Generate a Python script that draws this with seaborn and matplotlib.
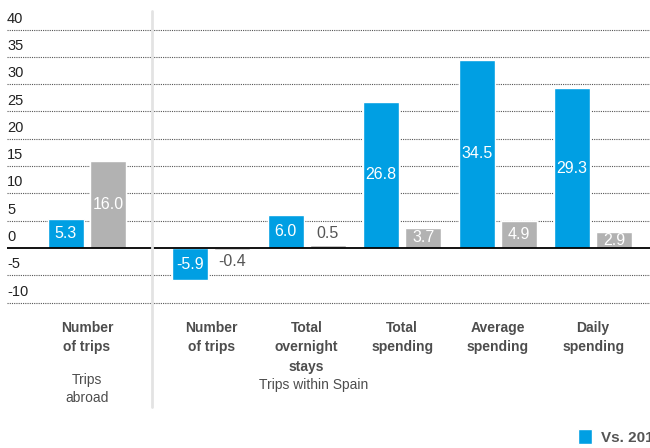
import matplotlib
matplotlib.use("Agg")
import matplotlib.pyplot as plt
from matplotlib.lines import Line2D
import seaborn as sns
import pandas as pd

# ---- data ----
categories = ["Number\nof trips", "Number\nof trips", "Total\novernight\nstays",
              "Total\nspending", "Average\nspending", "Daily\nspending"]
positions = [0.0, 1.3, 2.3, 3.3, 4.3, 5.3]
series_names = ["Vs. 2017", "Vs. earlier period"]
blue_values = [5.3, -5.9, 6.0, 26.8, 34.5, 29.3]
gray_values = [16.0, -0.4, 0.5, 3.7, 4.9, 2.9]
yticks = [-10, -5, 0, 5, 10, 15, 20, 25, 30, 35, 40]
group_labels = ["Trips\nabroad", "Trips within Spain"]

BLUE = "#009FE3"
GRAY = "#B2B2B2"
TEXT = "#4D4D4D"

df = pd.DataFrame({
    "pos": positions * 2,
    "value": blue_values + gray_values,
    "series": [series_names[0]] * len(positions) + [series_names[1]] * len(positions),
})

sns.set_theme(style="white")
plt.rcParams["font.family"] = ["Liberation Sans", "DejaVu Sans"]

fig = plt.figure(figsize=(6.5, 4.48), dpi=100)
W, H = 650, 448
px_per_unit_x = 95.5
x0_px = 87
y_px_per_unit = 5.46
y0_px = 248
ylo, yhi = -11, 41
ax_left = 7 / W
ax = fig.add_axes([ax_left, 1 - (y0_px - ylo * y_px_per_unit) / H,
                   1 - ax_left, ((yhi - ylo) * y_px_per_unit) / H])

sns.barplot(data=df, x="pos", y="value", hue="series", native_scale=True,
            palette=[BLUE, GRAY], width=0.88, gap=0.14, errorbar=None,
            ax=ax, saturation=1, legend=True)

ax.set_xlim(-(x0_px - 7) / px_per_unit_x, (W - x0_px) / px_per_unit_x)
ax.set_ylim(ylo, yhi)

for s in ax.spines.values():
    s.set_visible(False)

# gridlines
for t in yticks:
    if t == 0:
        ax.axhline(0, color="black", lw=1.3, zorder=3)
    else:
        ax.axhline(t, color="#555555", lw=0.8, ls=(0, (1, 1)), zorder=0)

ax.set_yticks([])
ax.set_ylabel("")
ax.set_xlabel("")
for t in yticks:
    ax.annotate(str(t), xy=(0, t), xycoords=ax.get_yaxis_transform(),
                xytext=(0, 5), textcoords="offset points",
                ha="left", va="baseline", fontsize=10.5, color="#222222")

ax.set_xticks(positions)
ax.set_xticklabels(categories, fontsize=10, fontweight="bold", color=TEXT,
                   linespacing=1.5)
ax.tick_params(axis="x", length=0, pad=9)

# bar labels
for cont, vals in zip(ax.containers, [blue_values, gray_values]):
    for bar, v in zip(cont, vals):
        cx = bar.get_x() + bar.get_width() / 2
        if abs(v) >= 1:
            ax.text(cx, v / 2, f"{v:.1f}", ha="center", va="center",
                    color="white", fontsize=11.5, zorder=5)
        else:
            ax.annotate(f"{v:.1f}", xy=(cx, v), xytext=(0, 3 if v > 0 else -3),
                        textcoords="offset points", ha="center",
                        va="bottom" if v > 0 else "top",
                        color="#555555", fontsize=11.5, zorder=5)

# group labels
fig.text(87 / W, 1 - 373 / H, group_labels[0], ha="center", va="top",
         fontsize=10, color=TEXT, linespacing=1.35)
fig.text(314 / W, 1 - 378 / H, group_labels[1], ha="center", va="top",
         fontsize=10, color=TEXT)

# separator
fig.add_artist(Line2D([152 / W, 152 / W], [1 - 11 / H, 1 - 407 / H],
                      transform=fig.transFigure, color="#E3E3E3", lw=2))

# legend (only first series visible in the crop)
handles, labels = ax.get_legend_handles_labels()
ax.legend(handles[:1], labels[:1], loc="lower left",
          bbox_to_anchor=(575 / W, 1 - 448 / H), bbox_transform=fig.transFigure,
          frameon=False, handlelength=0.9, handleheight=1.1, handletextpad=0.6,
          borderaxespad=0, borderpad=0.2,
          prop={"size": 11, "weight": "bold"},
          labelcolor="#555555")

fig.savefig("out.png", dpi=100)
